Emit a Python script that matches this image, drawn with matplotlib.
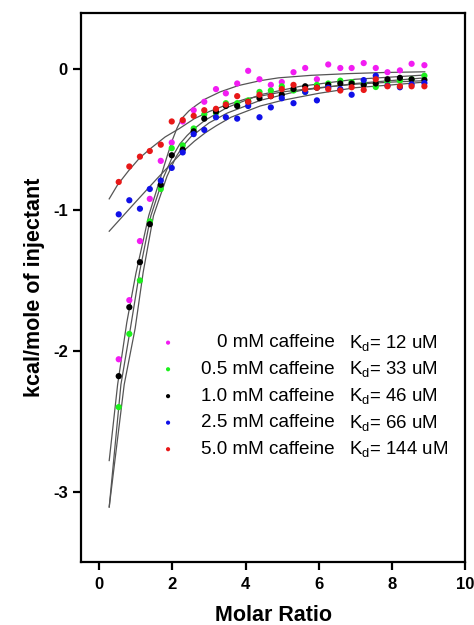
import matplotlib.pyplot as plt

plt.rcParams['font.family'] = ['Liberation Sans', 'DejaVu Sans']
plt.rcParams['mathtext.default'] = 'regular'
plt.rcParams['axes.unicode_minus'] = False

# molar ratio of each injection (shared by all series)
molar_ratio = [0.53, 0.82, 1.11, 1.38, 1.68, 1.98, 2.28, 2.58, 2.87, 3.19,
               3.46, 3.77, 4.07, 4.38, 4.69, 4.99, 5.31, 5.63, 5.95, 6.26,
               6.59, 6.90, 7.23, 7.56, 7.88, 8.22, 8.54, 8.89]

# heats, kcal/mole of injectant
caf_0 = [-2.06, -1.64, -1.22, -0.92, -0.65, -0.52, -0.37, -0.29, -0.23, -0.14,
         -0.17, -0.10, -0.01, -0.07, -0.11, -0.09, -0.02, 0.01, -0.07, 0.035,
         0.01, 0.01, 0.045, 0.01, -0.02, -0.007, 0.04, 0.03]
caf_05 = [-2.40, -1.88, -1.50, -1.08, -0.85, -0.56, -0.54, -0.42, -0.32, -0.31,
          -0.24, -0.24, -0.22, -0.16, -0.15, -0.12, -0.15, -0.16, -0.11, -0.10,
          -0.08, -0.09, -0.10, -0.125, -0.09, -0.08, -0.07, -0.045]
caf_10 = [-2.18, -1.69, -1.37, -1.10, -0.82, -0.61, -0.57, -0.44, -0.35, -0.30,
          -0.26, -0.26, -0.23, -0.205, -0.19, -0.18, -0.14, -0.12, -0.13, -0.11,
          -0.10, -0.10, -0.11, -0.10, -0.07, -0.06, -0.07, -0.075]
caf_25 = [-1.03, -0.93, -0.99, -0.85, -0.79, -0.70, -0.59, -0.46, -0.43, -0.34,
          -0.34, -0.35, -0.26, -0.34, -0.27, -0.205, -0.24, -0.16, -0.22, -0.13,
          -0.14, -0.18, -0.076, -0.045, -0.116, -0.127, -0.106, -0.097]
caf_50 = [-0.80, -0.69, -0.62, -0.58, -0.535, -0.37, -0.36, -0.33, -0.29, -0.28,
          -0.25, -0.19, -0.23, -0.18, -0.19, -0.14, -0.11, -0.14, -0.13, -0.14,
          -0.15, -0.127, -0.146, -0.07, -0.12, -0.12, -0.12, -0.12]

# fitted curves
fit0_x = [0.27, 0.5, 0.75, 1.0, 1.35, 1.6, 1.85, 2.0, 2.12, 2.25, 2.45, 2.65, 2.9, 3.3, 3.8, 4.4, 4.9, 5.8, 6.8, 7.8, 8.9]
fit0_y = [-2.78, -2.24, -1.80, -1.45, -1.04, -0.83, -0.62, -0.50, -0.42, -0.35, -0.295, -0.255, -0.21, -0.16, -0.115, -0.08, -0.06, -0.042, -0.03, -0.022, -0.017]
fit05_x = [0.27, 0.59, 0.85, 1.1, 1.41, 1.75, 2.0, 2.2, 2.4, 2.6, 2.9, 3.5, 4.4, 5.5, 7.0, 8.9]
fit05_y = [-3.11, -2.24, -1.84, -1.44, -1.04, -0.77, -0.62, -0.53, -0.47, -0.42, -0.36, -0.27, -0.18, -0.12, -0.07, -0.04]
fit10_x = [0.27, 0.68, 0.98, 1.2, 1.48, 1.85, 2.1, 2.3, 2.5, 2.7, 3.0, 3.5, 4.4, 5.5, 7.0, 8.9]
fit10_y = [-3.11, -2.24, -1.84, -1.44, -1.04, -0.76, -0.62, -0.54, -0.48, -0.44, -0.38, -0.31, -0.22, -0.15, -0.10, -0.06]
fit25_x = [0.27, 1.0, 1.6, 2.0, 2.3, 2.6, 2.9, 3.2, 3.6, 4.0, 4.4, 5.0, 6.0, 7.0, 8.0, 8.9]
fit25_y = [-1.15, -0.94, -0.77, -0.66, -0.58, -0.51, -0.45, -0.40, -0.34, -0.30, -0.26, -0.22, -0.17, -0.13, -0.11, -0.09]
fit50_x = [0.27, 0.5, 0.8, 1.1, 1.41, 1.8, 2.19, 2.6, 3.0, 3.4, 4.0, 4.4, 5.0, 6.0, 7.0, 8.0, 8.9]
fit50_y = [-0.92, -0.82, -0.72, -0.63, -0.56, -0.48, -0.42, -0.35, -0.30, -0.26, -0.21, -0.19, -0.16, -0.13, -0.105, -0.09, -0.08]

conc = ['0 mM caffeine', '0.5 mM caffeine', '1.0 mM caffeine', '2.5 mM caffeine', '5.0 mM caffeine']
kd = ['12', '33', '46', '66', '144']
colors = ['#f21cf2', '#1cf01c', '#000000', '#1010e8', '#e81818']

series = [caf_0, caf_05, caf_10, caf_25, caf_50]
fits = [(fit0_x, fit0_y), (fit05_x, fit05_y), (fit10_x, fit10_y),
        (fit25_x, fit25_y), (fit50_x, fit50_y)]

fig = plt.figure(figsize=(4.74, 6.25), dpi=100)
ax = fig.add_axes([0.171, 0.101, 0.81, 0.878])

for fx, fy in fits:
    ax.plot(fx, fy, color='#555555', lw=0.9, zorder=2)
for y, c in zip(series, colors):
    ax.scatter(molar_ratio, y, s=20, color=c, edgecolors='none', zorder=3)

# legend drawn by hand so the columns line up like the original
rows_y = [0.3995, 0.351, 0.302, 0.2537, 0.2053]
for ry, c, lab, k in zip(rows_y, colors, conc, kd):
    ax.scatter([0.2266], [ry], s=9, color=c, edgecolors='none', transform=ax.transAxes, zorder=4)
    ax.text(0.661, ry, lab, transform=ax.transAxes, ha='right', va='center', fontsize=13.6)
    ax.text(0.698, ry, 'K$_d$= ' + k + ' uM', transform=ax.transAxes, ha='left', va='center', fontsize=13.4)

ax.set_xlim(-0.5, 10)
ax.set_ylim(-3.5, 0.4)
ax.set_xticks([0, 2, 4, 6, 8, 10])
ax.set_yticks([0, -1, -2, -3])
for s in ax.spines.values():
    s.set_linewidth(1.6)
ax.tick_params(direction='out', length=6, width=1.6, labelsize=12)
ax.tick_params(axis='x', pad=5)
ax.tick_params(axis='y', pad=3.5)
for lab in ax.get_xticklabels() + ax.get_yticklabels():
    lab.set_fontweight('bold')

ax.set_xlabel('Molar Ratio', fontsize=15.5, fontweight='bold', labelpad=9)
ax.set_ylabel('kcal/mole of injectant', fontsize=15.5, fontweight='bold', labelpad=6)

plt.savefig('out.png', dpi=100)
